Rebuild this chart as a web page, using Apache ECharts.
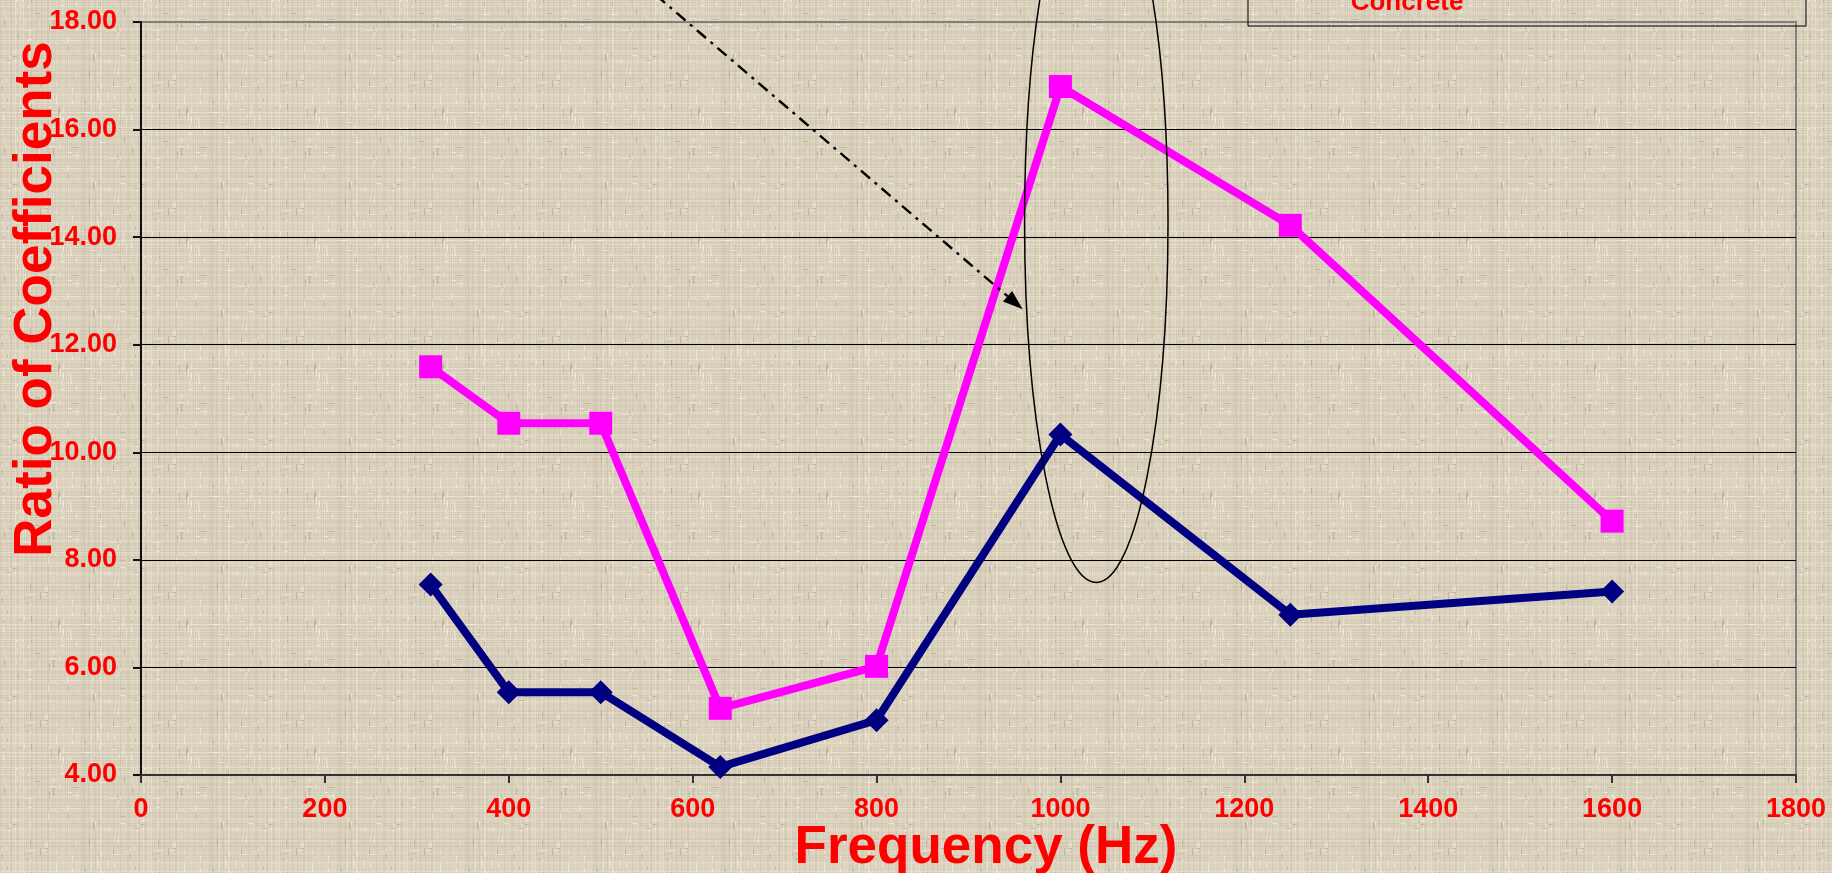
<!DOCTYPE html>
<html>
<head>
<meta charset="utf-8">
<script src="https://cdn.jsdelivr.net/npm/echarts@6/dist/echarts.min.js"></script>
<style>
  html, body { margin: 0; padding: 0; }
  #chart { width: 1832px; height: 873px; }
</style>
</head>
<body>
<div id="chart"></div>
<script>
// Measured frequencies and coefficient ratios
const frequencies = [315, 400, 500, 630, 800, 1000, 1250, 1600];
const ratioBlue = [7.54, 5.54, 5.54, 4.15, 5.02, 10.33, 6.98, 7.41];
const ratioPink = [11.59, 10.54, 10.54, 5.24, 6.02, 16.80, 14.22, 8.72];
const xTicks = { min: 0, max: 1800, step: 200 };
const yTicks = { min: 4, max: 18, step: 2 };

const FONT = '"Liberation Sans", Arial, sans-serif';
const RED = '#FF0000';

// Linen-style canvas texture used behind the whole chart
function linenTexture() {
  const size = 128;
  const c = document.createElement('canvas');
  c.width = size; c.height = size;
  const g = c.getContext('2d');
  g.fillStyle = '#DED5C1';
  g.fillRect(0, 0, size, size);
  const h = (n) => {
    let v = (n * 2654435761) >>> 0;
    v ^= v >>> 13; v = Math.imul(v, 1274126177) >>> 0; v ^= v >>> 16;
    return (v % 1000) / 1000;
  };
  // soft weave threads
  for (let i = 0; i < size; i++) {
    const a = h(i + 17), b = h(i * 7 + 3);
    g.fillStyle = a > 0.55 ? 'rgba(246,240,226,' + (0.15 + 0.25 * b) + ')' : 'rgba(160,148,122,' + (0.05 + 0.12 * b) + ')';
    g.fillRect(i, 0, 1, size);
    const c2 = h(i * 13 + 101), d = h(i * 3 + 55);
    g.fillStyle = c2 > 0.55 ? 'rgba(246,240,226,' + (0.15 + 0.25 * d) + ')' : 'rgba(160,148,122,' + (0.05 + 0.12 * d) + ')';
    g.fillRect(0, i, size, 1);
  }
  // short flecks
  for (let k = 0; k < 700; k++) {
    const x = Math.floor(h(k * 31 + 9) * size), y = Math.floor(h(k * 17 + 77) * size);
    const len = 2 + Math.floor(h(k * 5 + 1) * 7);
    g.fillStyle = h(k + 400) > 0.5 ? 'rgba(125,112,90,0.28)' : 'rgba(252,248,236,0.5)';
    if (h(k + 900) > 0.5) g.fillRect(x, y, len, 1); else g.fillRect(x, y, 1, len);
  }
  return c.toDataURL();
}
document.getElementById('chart').style.background = 'url(' + linenTexture() + ') repeat';

const chart = echarts.init(document.getElementById('chart'), null, { renderer: 'canvas' });

const option = {
  backgroundColor: 'transparent',
  animation: false,
  grid: {
    left: 141, right: 36, top: 22, bottom: 98,
    show: true, borderColor: '#808080', borderWidth: 2, backgroundColor: 'transparent'
  },
  xAxis: {
    type: 'value',
    min: xTicks.min, max: xTicks.max, interval: xTicks.step,
    axisLine: { show: true, lineStyle: { color: '#333333', width: 2 } },
    axisTick: { show: true, inside: false, length: 8, lineStyle: { color: '#333333', width: 2 } },
    axisLabel: {
      color: RED, fontFamily: FONT, fontWeight: 'bold', fontSize: 27, margin: 21,
      formatter: (v) => String(v)
    },
    splitLine: { show: false }
  },
  yAxis: {
    type: 'value',
    min: yTicks.min, max: yTicks.max, interval: yTicks.step,
    axisLine: { show: true, lineStyle: { color: '#111111', width: 2 } },
    axisTick: { show: true, inside: false, length: 8, lineStyle: { color: '#111111', width: 2 } },
    axisLabel: {
      color: RED, fontFamily: FONT, fontWeight: 'bold', fontSize: 27, margin: 24,
      formatter: (v) => v.toFixed(2)
    },
    splitLine: { show: true, showMinLine: false, showMaxLine: false, lineStyle: { color: '#000000', width: 1 } }
  },
  series: [
    {
      name: 'Ratio (blue)',
      type: 'line',
      data: frequencies.map((f, i) => [f, ratioBlue[i]]),
      symbol: 'diamond', symbolSize: 24,
      lineStyle: { color: '#000080', width: 8 },
      itemStyle: { color: '#000080' },
      z: 3
    },
    {
      name: 'Ratio (pink)',
      type: 'line',
      data: frequencies.map((f, i) => [f, ratioPink[i]]),
      symbol: 'rect', symbolSize: 23,
      lineStyle: { color: '#FF00FF', width: 8 },
      itemStyle: { color: '#FF00FF' },
      z: 4
    }
  ]
};
chart.setOption(option);

// Annotations placed in data units (frequency, ratio)
const ringCenter = [1039, 14.28];
const ringRadius = [78, 6.7];
const arrowFrom = [560, 18.5];
const arrowTo = [959, 12.66];

function px(p) { return chart.convertToPixel({ gridIndex: 0 }, p); }

const c0 = px(ringCenter);
const cR = px([ringCenter[0] + ringRadius[0], ringCenter[1] + ringRadius[1]]);
const a0 = px(arrowFrom);
const a1 = px(arrowTo);
const ang = Math.atan2(a1[1] - a0[1], a1[0] - a0[0]);
const headLen = 20, headHalf = 7;
const base = [a1[0] - headLen * Math.cos(ang), a1[1] - headLen * Math.sin(ang)];
const perp = [-Math.sin(ang), Math.cos(ang)];

chart.setOption({
  graphic: [
    {
      type: 'ellipse', z: 10,
      shape: { cx: c0[0], cy: c0[1], rx: Math.abs(cR[0] - c0[0]), ry: Math.abs(c0[1] - cR[1]) },
      style: { fill: 'none', stroke: '#000000', lineWidth: 1.5 }
    },
    {
      type: 'line', z: 10,
      shape: { x1: a0[0], y1: a0[1], x2: base[0], y2: base[1] },
      style: { stroke: '#000000', lineWidth: 2.4, lineDash: [12, 6, 3, 6] }
    },
    {
      type: 'polygon', z: 10,
      shape: { points: [
        [a1[0], a1[1]],
        [base[0] + perp[0] * headHalf, base[1] + perp[1] * headHalf],
        [base[0] - perp[0] * headHalf, base[1] - perp[1] * headHalf]
      ] },
      style: { fill: '#000000' }
    },
    {
      type: 'rect', z: 10,
      shape: { x: 1248, y: -60, width: 558, height: 86 },
      style: { fill: 'none', stroke: '#000000', lineWidth: 1 }
    },
    {
      type: 'text', z: 11,
      x: 1407, y: 3,
      style: { text: 'Concrete', fill: RED, font: 'bold 26px ' + FONT, align: 'center', verticalAlign: 'middle' }
    },
    {
      type: 'text', z: 11,
      x: 36, y: 299, rotation: Math.PI / 2,
      style: { text: 'Ratio of Coefficients', fill: RED, font: 'bold 53px ' + FONT, align: 'center', verticalAlign: 'middle' }
    },
    {
      type: 'text', z: 11,
      x: 986, y: 848,
      style: { text: 'Frequency (Hz)', fill: RED, font: 'bold 53px ' + FONT, align: 'center', verticalAlign: 'middle' }
    }
  ]
});
</script>
</body>
</html>
